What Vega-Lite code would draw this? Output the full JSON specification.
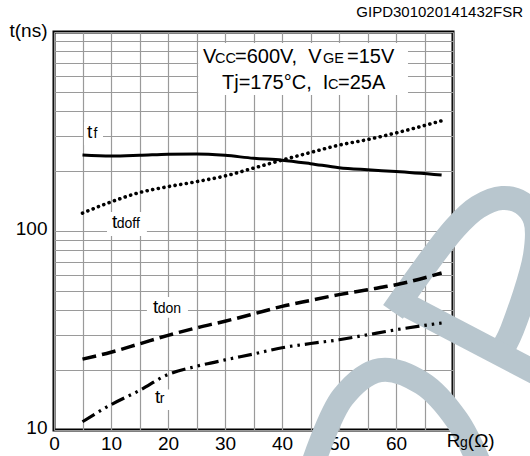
{
  "$schema": "https://vega.github.io/schema/vega-lite/v6.json",
  "width": 399,
  "height": 398,
  "autosize": {"type": "none"},
  "padding": {"left": 54, "top": 32, "right": 77, "bottom": 26},
  "config": {
    "view": {"stroke": "black", "strokeWidth": 3},
    "font": "Liberation Sans",
    "axis": {
      "domain": false, "ticks": false,
      "gridColor": "#9a9a9a", "gridWidth": 1.2, "gridOpacity": 1,
      "labelFont": "Liberation Sans", "labelFontSize": 19, "labelColor": "black",
      "titleFont": "Liberation Sans", "titleFontWeight": "normal", "titleColor": "black",
      "labelOverlap": false, "labelFlush": false, "labelBound": false
    }
  },
  "datasets": {
    "curves": [
      {"s": "tf", "x": 5, "y": 241}, {"s": "tf", "x": 10, "y": 238}, {"s": "tf", "x": 15, "y": 240}, {"s": "tf", "x": 20, "y": 243}, {"s": "tf", "x": 25, "y": 244}, {"s": "tf", "x": 30, "y": 240}, {"s": "tf", "x": 35, "y": 232}, {"s": "tf", "x": 40, "y": 227}, {"s": "tf", "x": 45, "y": 218}, {"s": "tf", "x": 50, "y": 208}, {"s": "tf", "x": 55, "y": 203}, {"s": "tf", "x": 60, "y": 199}, {"s": "tf", "x": 68, "y": 191},
      {"s": "tdoff", "x": 5, "y": 123}, {"s": "tdoff", "x": 10, "y": 140}, {"s": "tdoff", "x": 15, "y": 156}, {"s": "tdoff", "x": 20, "y": 167}, {"s": "tdoff", "x": 25, "y": 177}, {"s": "tdoff", "x": 30, "y": 189}, {"s": "tdoff", "x": 35, "y": 207}, {"s": "tdoff", "x": 40, "y": 227}, {"s": "tdoff", "x": 45, "y": 248}, {"s": "tdoff", "x": 50, "y": 270}, {"s": "tdoff", "x": 55, "y": 288}, {"s": "tdoff", "x": 60, "y": 311}, {"s": "tdoff", "x": 68, "y": 358},
      {"s": "tdon", "x": 5, "y": 22.7}, {"s": "tdon", "x": 10, "y": 24.6}, {"s": "tdon", "x": 15, "y": 27.1}, {"s": "tdon", "x": 20, "y": 29.9}, {"s": "tdon", "x": 25, "y": 32.6}, {"s": "tdon", "x": 30, "y": 35.2}, {"s": "tdon", "x": 35, "y": 38.3}, {"s": "tdon", "x": 40, "y": 41.8}, {"s": "tdon", "x": 45, "y": 44.8}, {"s": "tdon", "x": 50, "y": 47.9}, {"s": "tdon", "x": 55, "y": 50.7}, {"s": "tdon", "x": 60, "y": 53.7}, {"s": "tdon", "x": 68, "y": 61.5},
      {"s": "tr", "x": 5, "y": 11.0}, {"s": "tr", "x": 10, "y": 13.4}, {"s": "tr", "x": 15, "y": 15.8}, {"s": "tr", "x": 20, "y": 19.0}, {"s": "tr", "x": 25, "y": 20.9}, {"s": "tr", "x": 30, "y": 22.5}, {"s": "tr", "x": 35, "y": 24.1}, {"s": "tr", "x": 40, "y": 25.9}, {"s": "tr", "x": 45, "y": 27.2}, {"s": "tr", "x": 50, "y": 28.4}, {"s": "tr", "x": 55, "y": 30.1}, {"s": "tr", "x": 60, "y": 31.9}, {"s": "tr", "x": 68, "y": 34.5}
    ],
    "wm": [
      {"shape": "A", "o": 1, "x": 59.47, "y": 39.2}, {"shape": "A", "o": 2, "x": 70.35, "y": 103.5}, {"shape": "A", "o": 3, "x": 74.39, "y": 132}, {"shape": "A", "o": 4, "x": 78.6, "y": 146.5}, {"shape": "A", "o": 5, "x": 82.1, "y": 138.2}, {"shape": "A", "o": 6, "x": 84.4, "y": 113.6}, {"shape": "A", "o": 7, "x": 84.4, "y": 75.8}, {"shape": "A", "o": 8, "x": 80.35, "y": 31.8}, {"shape": "A", "o": 9, "x": 79.1, "y": 26.7},
      {"shape": "B", "o": 1, "x": 60.18, "y": 45.0}, {"shape": "B", "o": 2, "x": 85.26, "y": 18.9},
      {"shape": "C", "o": 1, "x": 45.09, "y": 6.3}, {"shape": "C", "o": 2, "x": 50.7, "y": 14.65}, {"shape": "C", "o": 3, "x": 57.19, "y": 20.0}, {"shape": "C", "o": 4, "x": 64.56, "y": 17.2}, {"shape": "C", "o": 5, "x": 70.7, "y": 11.2}, {"shape": "C", "o": 6, "x": 75.09, "y": 6.3}
    ],
    "boxes": [
      {"x": 25.3, "x2": 62.1, "y": 482, "y2": 881},
      {"x": 5.26, "x2": 8.6, "y": 270, "y2": 353},
      {"x": 9.3, "x2": 16.3, "y": 94.4, "y2": 124.6},
      {"x": 16.3, "x2": 23.5, "y": 36.6, "y2": 46.6},
      {"x": 16.8, "x2": 20.4, "y": 12.6, "y2": 16.0}
    ],
    "texts": [
      {"part": "cond", "x": 26.14, "y": 700, "text": "V"},
      {"part": "cond", "x": 31.75, "y": 700, "text": "=600V,"},
      {"part": "cond", "x": 44.6, "y": 700, "text": "V"},
      {"part": "cond", "x": 51.4, "y": 700, "text": "=15V"},
      {"part": "cond", "x": 29.47, "y": 520, "text": "Tj=175°C,\u00a0\u00a0I"},
      {"part": "cond", "x": 49.82, "y": 520, "text": "=25A"},
      {"part": "condsub", "x": 28.25, "y": 700, "text": "CC"},
      {"part": "condsub", "x": 47.19, "y": 700, "text": "GE"},
      {"part": "condsub", "x": 48.07, "y": 520, "text": "C"},
      {"part": "main", "x": 5.79, "y": 293, "text": "t"},
      {"part": "main", "x": 10.18, "y": 103.5, "text": "t"},
      {"part": "main", "x": 17.37, "y": 38.7, "text": "t"},
      {"part": "main", "x": 17.72, "y": 13.67, "text": "t"},
      {"part": "main", "x": 68.9, "y": 8.2, "text": "R"},
      {"part": "main", "x": 72.6, "y": 8.2, "text": "(Ω)"},
      {"part": "sub", "x": 6.95, "y": 293, "text": "f"},
      {"part": "sub", "x": 11.0, "y": 103.5, "text": "doff"},
      {"part": "sub", "x": 18.2, "y": 38.7, "text": "don"},
      {"part": "sub", "x": 18.55, "y": 13.67, "text": "r"},
      {"part": "sub", "x": 71.23, "y": 8.2, "text": "g"},
      {"part": "code", "x": 82.3, "y": 1190, "text": "GIPD301020141432FSR"}
    ]
  },
  "encoding": {
    "x": {
      "field": "x", "type": "quantitative",
      "scale": {"domain": [0, 70], "nice": false, "zero": false},
      "axis": {
        "values": [0, 5, 10, 15, 20, 25, 30, 35, 40, 45, 50, 55, 60, 65, 70],
        "labelExpr": "datum.value % 10 == 0 && datum.value <= 60 ? format(datum.value, 'd') : ''",
        "title": null, "labelPadding": 4
      }
    },
    "y": {
      "field": "y", "type": "quantitative",
      "scale": {"type": "log", "domain": [10, 1000], "nice": false},
      "axis": {
        "values": [10, 20, 30, 40, 50, 60, 70, 80, 90, 100, 200, 300, 400, 500, 600, 700, 800, 900, 1000],
        "labelExpr": "datum.value == 10 || datum.value == 100 ? format(datum.value, 'd') : ''",
        "title": "t(ns)", "titleAngle": 0, "titleAlign": "left", "titleBaseline": "alphabetic",
        "titleX": -45, "titleY": 4, "titleFontSize": 19, "labelPadding": 7, "labelOffset": -3
      }
    }
  },
  "layer": [
    {
      "data": {"name": "wm"},
      "mark": {"type": "line", "color": "#b8c6ce", "strokeWidth": 24, "strokeCap": "butt", "strokeJoin": "round", "interpolate": "catmull-rom"},
      "encoding": {"detail": {"field": "shape"}, "order": {"field": "o"}}
    },
    {
      "data": {"name": "boxes"},
      "mark": {"type": "rect", "color": "white"},
      "encoding": {"x2": {"field": "x2"}, "y2": {"field": "y2"}}
    },
    {
      "data": {"name": "curves"},
      "transform": [{"filter": "datum.s == 'tf'"}],
      "mark": {"type": "line", "color": "black", "strokeWidth": 3, "interpolate": "monotone"}
    },
    {
      "data": {"name": "curves"},
      "transform": [{"filter": "datum.s == 'tdoff'"}],
      "mark": {"type": "line", "color": "black", "strokeWidth": 3.6, "strokeCap": "round", "strokeDash": [0.1, 5.6], "interpolate": "monotone"}
    },
    {
      "data": {"name": "curves"},
      "transform": [{"filter": "datum.s == 'tdon'"}],
      "mark": {"type": "line", "color": "black", "strokeWidth": 3.5, "strokeDash": [14, 6], "interpolate": "monotone"}
    },
    {
      "data": {"name": "curves"},
      "transform": [{"filter": "datum.s == 'tr'"}],
      "mark": {"type": "line", "color": "black", "strokeWidth": 3.2, "strokeDash": [14, 5, 2.5, 5, 2.5, 5], "interpolate": "monotone"}
    },
    {
      "data": {"name": "texts"},
      "transform": [{"filter": "datum.part == 'cond'"}],
      "mark": {"type": "text", "align": "left", "baseline": "alphabetic", "fontSize": 20, "color": "black"},
      "encoding": {"text": {"field": "text"}}
    },
    {
      "data": {"name": "texts"},
      "transform": [{"filter": "datum.part == 'condsub'"}],
      "mark": {"type": "text", "align": "left", "baseline": "alphabetic", "fontSize": 14.5, "color": "black"},
      "encoding": {"text": {"field": "text"}}
    },
    {
      "data": {"name": "texts"},
      "transform": [{"filter": "datum.part == 'main'"}],
      "mark": {"type": "text", "align": "left", "baseline": "alphabetic", "fontSize": 19, "color": "black"},
      "encoding": {"text": {"field": "text"}}
    },
    {
      "data": {"name": "texts"},
      "transform": [{"filter": "datum.part == 'sub'"}],
      "mark": {"type": "text", "align": "left", "baseline": "alphabetic", "fontSize": 14, "color": "black"},
      "encoding": {"text": {"field": "text"}}
    },
    {
      "data": {"name": "texts"},
      "transform": [{"filter": "datum.part == 'code'"}],
      "mark": {"type": "text", "align": "right", "baseline": "alphabetic", "fontSize": 15, "color": "black"},
      "encoding": {"text": {"field": "text"}}
    }
  ]
}
